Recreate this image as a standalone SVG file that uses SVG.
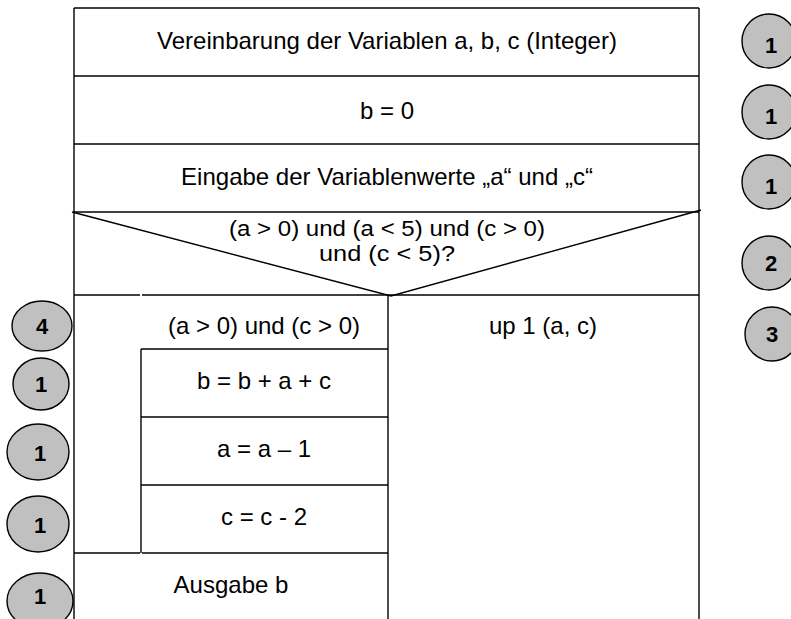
<svg xmlns="http://www.w3.org/2000/svg" width="791" height="619" viewBox="0 0 791 619">
<style>
.ln{stroke:#000;stroke-width:1.4;fill:none}
.t{font-family:"Liberation Sans",Arial,sans-serif;font-size:24px;fill:#000;text-anchor:middle}
.d{font-family:"Liberation Sans",Arial,sans-serif;font-size:22px;fill:#000;text-anchor:middle}
.c{fill:#c0c0c0;stroke:#000;stroke-width:1.4}
.n{font-family:"Liberation Sans",Arial,sans-serif;font-size:22px;font-weight:bold;fill:#000;text-anchor:middle}
</style>
<rect width="791" height="619" fill="#fff"/>
<g id="frame">
<line class="ln" x1="74" y1="8" x2="699" y2="8"/>
<line class="ln" x1="74" y1="8" x2="74" y2="619"/>
<line class="ln" x1="699" y1="8" x2="699" y2="619"/>
</g>
<g id="decl">
<line class="ln" x1="74" y1="76" x2="699" y2="76"/>
<text class="t" x="387" y="49">Vereinbarung der Variablen a, b, c (Integer)</text>
</g>
<g id="init">
<line class="ln" x1="74" y1="144" x2="699" y2="144"/>
<text class="t" x="387" y="119">b = 0</text>
</g>
<g id="input">
<line class="ln" x1="74" y1="212" x2="699" y2="212"/>
<text class="t" x="387" y="185">Eingabe der Variablenwerte „a“ und „c“</text>
</g>
<g id="decision">
<polyline class="ln" points="72,212 391,296 701,210"/>
<line class="ln" x1="74" y1="295" x2="140" y2="295"/>
<line class="ln" x1="142" y1="295" x2="699" y2="295"/>
<line class="ln" x1="388" y1="295" x2="388" y2="619"/>
<text class="d" x="387" y="236" textLength="316" lengthAdjust="spacingAndGlyphs">(a &gt; 0) und (a &lt; 5) und (c &gt; 0)</text>
<text class="d" x="387" y="261" textLength="136" lengthAdjust="spacingAndGlyphs">und (c &lt; 5)?</text>
</g>
<g id="loop">
<text class="t" x="264" y="334">(a &gt; 0) und (c &gt; 0)</text>
<line class="ln" x1="141" y1="349" x2="141" y2="553"/>
</g>
<g id="sum">
<line class="ln" x1="141" y1="349" x2="388" y2="349"/>
<text class="t" x="264" y="389">b = b + a + c</text>
</g>
<g id="deca">
<line class="ln" x1="141" y1="417" x2="388" y2="417"/>
<text class="t" x="264" y="457">a = a – 1</text>
</g>
<g id="decc">
<line class="ln" x1="141" y1="485" x2="388" y2="485"/>
<text class="t" x="264" y="525">c = c - 2</text>
</g>
<g id="output">
<line class="ln" x1="74" y1="553" x2="140" y2="553"/>
<line class="ln" x1="142" y1="553" x2="388" y2="553"/>
<text class="t" x="231" y="593">Ausgabe b</text>
</g>
<g id="else">
<text class="t" x="543" y="334">up 1 (a, c)</text>
</g>
<g id="count-r1"><ellipse class="c" cx="769" cy="41" rx="27" ry="27"/><text class="n" x="771" y="53">1</text></g>
<g id="count-r2"><ellipse class="c" cx="769" cy="112" rx="27" ry="27"/><text class="n" x="771" y="124">1</text></g>
<g id="count-r3"><ellipse class="c" cx="769" cy="182" rx="27" ry="27"/><text class="n" x="771" y="194">1</text></g>
<g id="count-r4"><ellipse class="c" cx="769" cy="263" rx="27" ry="27"/><text class="n" x="771" y="271">2</text></g>
<g id="count-r5"><ellipse class="c" cx="772" cy="334" rx="27" ry="27"/><text class="n" x="772" y="342">3</text></g>
<g id="count-l1"><ellipse class="c" cx="42" cy="326" rx="30" ry="25"/><text class="n" x="42" y="334">4</text></g>
<g id="count-l2"><ellipse class="c" cx="41" cy="384" rx="28" ry="26"/><text class="n" x="41" y="392">1</text></g>
<g id="count-l3"><ellipse class="c" cx="38" cy="452" rx="31" ry="28"/><text class="n" x="40" y="461">1</text></g>
<g id="count-l4"><ellipse class="c" cx="38" cy="524" rx="31" ry="28"/><text class="n" x="40" y="533">1</text></g>
<g id="count-l5"><ellipse class="c" cx="40" cy="601" rx="33" ry="28"/><text class="n" x="40" y="604">1</text></g>
</svg>
